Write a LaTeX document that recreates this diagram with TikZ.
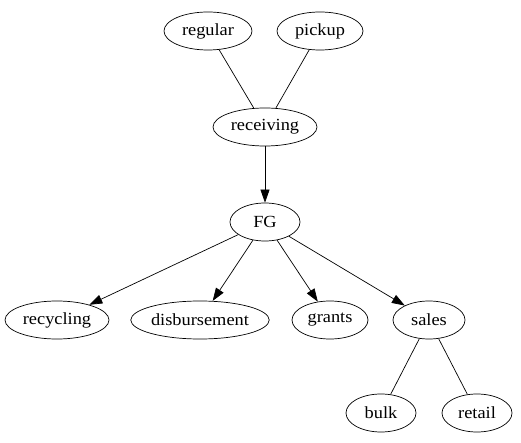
\documentclass[tikz,border=0pt]{standalone}
\usepackage{fontspec}
\setmainfont{Liberation Serif}[FakeStretch=1.08]
\usetikzlibrary{arrows.meta,shapes.geometric}
\begin{document}
\begin{tikzpicture}[x=1pt,y=-1pt,
  nd/.style={ellipse,draw,line width=0.7pt,inner sep=0pt,minimum height=38pt,font=\fontsize{17}{19}\selectfont},
  ln/.style={line width=0.7pt},
  ar/.style={line width=0.7pt,-{Triangle[length=13pt,width=9pt]}}]
\useasboundingbox (0,0) rectangle (521,443);
\node[nd,minimum width=88pt] (regular) at (208,31) {regular};
\node[nd,minimum width=86pt] (pickup) at (320,31) {pickup};
\node[nd,minimum width=104pt] (receiving) at (265,127) {receiving};
\node[nd,minimum width=70pt] (FG) at (265,222) {FG};
\node[nd,minimum width=104pt] (recycling) at (57,320) {recycling};
\node[nd,minimum width=134pt] (disbursement) at (200,320) {disbursement};
\node[nd,minimum width=76pt] (grants) at (330,320) {grants};
\node[nd,minimum width=72pt] (sales) at (429,320) {sales};
\node[nd,minimum width=70pt] (bulk) at (381,413) {bulk};
\node[nd,minimum width=70pt] (retail) at (477,413) {retail};
\draw[ln] (regular) -- (receiving);
\draw[ln] (pickup) -- (receiving);
\draw[ar] (receiving) -- (FG);
\draw[ar] (FG) -- (recycling);
\draw[ar] (FG) -- (disbursement);
\draw[ar] (FG) -- (grants);
\draw[ar] (FG) -- (sales);
\draw[ln] (sales) -- (bulk);
\draw[ln] (sales) -- (retail);
\end{tikzpicture}
\end{document}
